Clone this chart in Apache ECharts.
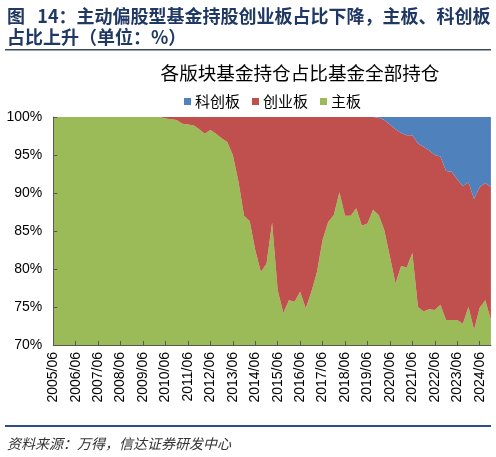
<!DOCTYPE html>
<html><head><meta charset="utf-8">
<script src="https://cdn.jsdelivr.net/npm/echarts@6/dist/echarts.min.js"></script>
<style>html,body{margin:0;padding:0;background:#fff;}#c{width:496px;height:457px;}</style>
</head><body><div id="c"></div>
<script>
const categories = [
 '2005/06','2005/09','2005/12','2006/03','2006/06','2006/09','2006/12','2007/03','2007/06','2007/09','2007/12','2008/03',
 '2008/06','2008/09','2008/12','2009/03','2009/06','2009/09','2009/12','2010/03','2010/06','2010/09','2010/12','2011/03',
 '2011/06','2011/09','2011/12','2012/03','2012/06','2012/09','2012/12','2013/03','2013/06','2013/09','2013/12','2014/03',
 '2014/06','2014/09','2014/12','2015/03','2015/06','2015/09','2015/12','2016/03','2016/06','2016/09','2016/12','2017/03',
 '2017/06','2017/09','2017/12','2018/03','2018/06','2018/09','2018/12','2019/03','2019/06','2019/09','2019/12','2020/03',
 '2020/06','2020/09','2020/12','2021/03','2021/06','2021/09','2021/12','2022/03','2022/06','2022/09','2022/12','2023/03',
 '2023/06','2023/09','2023/12','2024/03','2024/06','2024/09','2024/12'
];
// 主板 share (%)
const mainBoard = [
 100,100,100,100,100,100,100,100,100,100,100,100,
 100,100,100,100,100,100,100,100,99.8,99.7,99.6,99.1,
 99.0,98.9,98.4,97.8,98.3,97.8,97.2,96.7,95.0,91.5,87.0,86.3,
 82.5,79.6,80.7,86.1,77.2,74.2,75.9,75.7,77.0,74.8,77.0,79.6,
 83.8,86.2,87.1,90.1,87.0,87.0,88.0,85.7,86.0,87.8,87.1,85.1,
 81.6,78.1,80.4,80.2,82.1,75.0,74.4,74.7,74.6,75.3,73.3,73.3,
 73.3,72.8,75.0,72.0,74.9,75.9,73.3
];
// 创业板 share (%)
const chiNext = [
 0,0,0,0,0,0,0,0,0,0,0,0,
 0,0,0,0,0,0,0,0,0.2,0.3,0.4,0.9,
 1.0,1.1,1.6,2.2,1.7,2.2,2.8,3.3,5.0,8.5,13.0,13.7,
 17.5,20.4,19.3,13.9,22.8,25.8,24.1,24.3,23.0,25.2,23.0,20.4,
 16.2,13.8,12.9,9.9,13.0,13.0,12.0,14.3,14.0,12.2,12.8,14.5,
 17.4,20.3,17.5,17.4,15.5,21.5,21.7,20.9,20.4,19.5,19.6,19.5,
 18.5,18.1,16.4,17.2,15.9,15.4,17.5
];
// 科创板 share (%)
const star = [
 0,0,0,0,0,0,0,0,0,0,0,0,
 0,0,0,0,0,0,0,0,0,0,0,0,
 0,0,0,0,0,0,0,0,0,0,0,0,
 0,0,0,0,0,0,0,0,0,0,0,0,
 0,0,0,0,0,0,0,0,0,0,0.1,0.4,
 1.0,1.6,2.1,2.4,2.4,3.5,3.9,4.4,5.0,5.2,7.1,7.2,
 8.2,9.1,8.6,10.8,9.2,8.7,9.2
];
const yTicks = [70, 75, 80, 85, 90, 95, 100];

const chart = echarts.init(document.getElementById('c'), null, {renderer: 'canvas'});
const cjk = "'Noto Sans CJK SC', sans-serif";
const lat = "'Liberation Sans', Arial, sans-serif";
function areaSeries(name, data, color) {
  return {
    name: name, type: 'line', stack: 'total', data: data,
    showSymbol: false, symbol: 'none', smooth: false,
    lineStyle: {width: 0, color: color},
    itemStyle: {color: color},
    areaStyle: {color: color, opacity: 1},
    emphasis: {disabled: true}, silent: true, z: 2
  };
}
chart.setOption({
  animation: false,
  backgroundColor: '#fff',
  grid: {left: 53.3, right: 5.1, top: 117, bottom: 112, containLabel: false},
  legend: {
    data: ['科创板', '创业板', '主板'],
    left: 179, top: 89, icon: 'rect', itemWidth: 7, itemHeight: 7, itemGap: 12,
    textStyle: {fontFamily: cjk, fontSize: 15, color: '#000', padding: [0,0,0,-1]}
  },
  xAxis: {
    type: 'category', data: categories, boundaryGap: false, z: 5,
    axisLine: {lineStyle: {color: '#595959', width: 1}},
    axisTick: {inside: true, length: 4, interval: 3, lineStyle: {color: '#595959'}},
    axisLabel: {interval: 3, rotate: 90, margin: 7, fontFamily: lat, fontSize: 14, color: '#000'},
    splitLine: {show: false}
  },
  yAxis: {
    type: 'value', min: yTicks[0], max: yTicks[yTicks.length - 1], interval: 5, z: 5,
    axisLine: {show: true, lineStyle: {color: '#595959', width: 1}},
    axisTick: {show: true, inside: true, length: 4, lineStyle: {color: '#595959'}},
    axisLabel: {formatter: '{value}%', margin: 11, fontFamily: lat, fontSize: 14, color: '#000'},
    splitLine: {show: false}
  },
  series: [
    areaSeries('主板', mainBoard, '#9bbb59'),
    areaSeries('创业板', chiNext, '#c0504d'),
    areaSeries('科创板', star, '#4f81bd')
  ],
  graphic: [
    {type: 'text', left: 7, top: 7, style: {text: '图   14：主动偏股型基金持股创业板占比下降，主板、科创板', font: "bold 18px 'Noto Sans CJK SC'", fill: '#1f3864'}},
    {type: 'text', left: 7, top: 28, style: {text: '占比上升（单位：%）', font: "bold 18px 'Noto Sans CJK SC'", fill: '#1f3864'}},
    {type: 'rect', shape: {x: 5, y: 49, width: 486, height: 1.5}, style: {fill: '#3b4a5e'}},
    {type: 'text', x: 300, y: 73, style: {text: '各版块基金持仓占比基金全部持仓', font: "18.6px 'Noto Sans CJK SC'", fill: '#000', align: 'center', verticalAlign: 'middle'}},
    {type: 'rect', shape: {x: 5, y: 425, width: 486, height: 2}, style: {fill: '#2e4c85'}},
    {type: 'text', x: 7, y: 444, style: {text: '资料来源：万得，信达证券研发中心', font: "italic 14px 'Noto Sans CJK SC'", fill: '#333', verticalAlign: 'middle'}}
  ]
});
</script></body></html>
